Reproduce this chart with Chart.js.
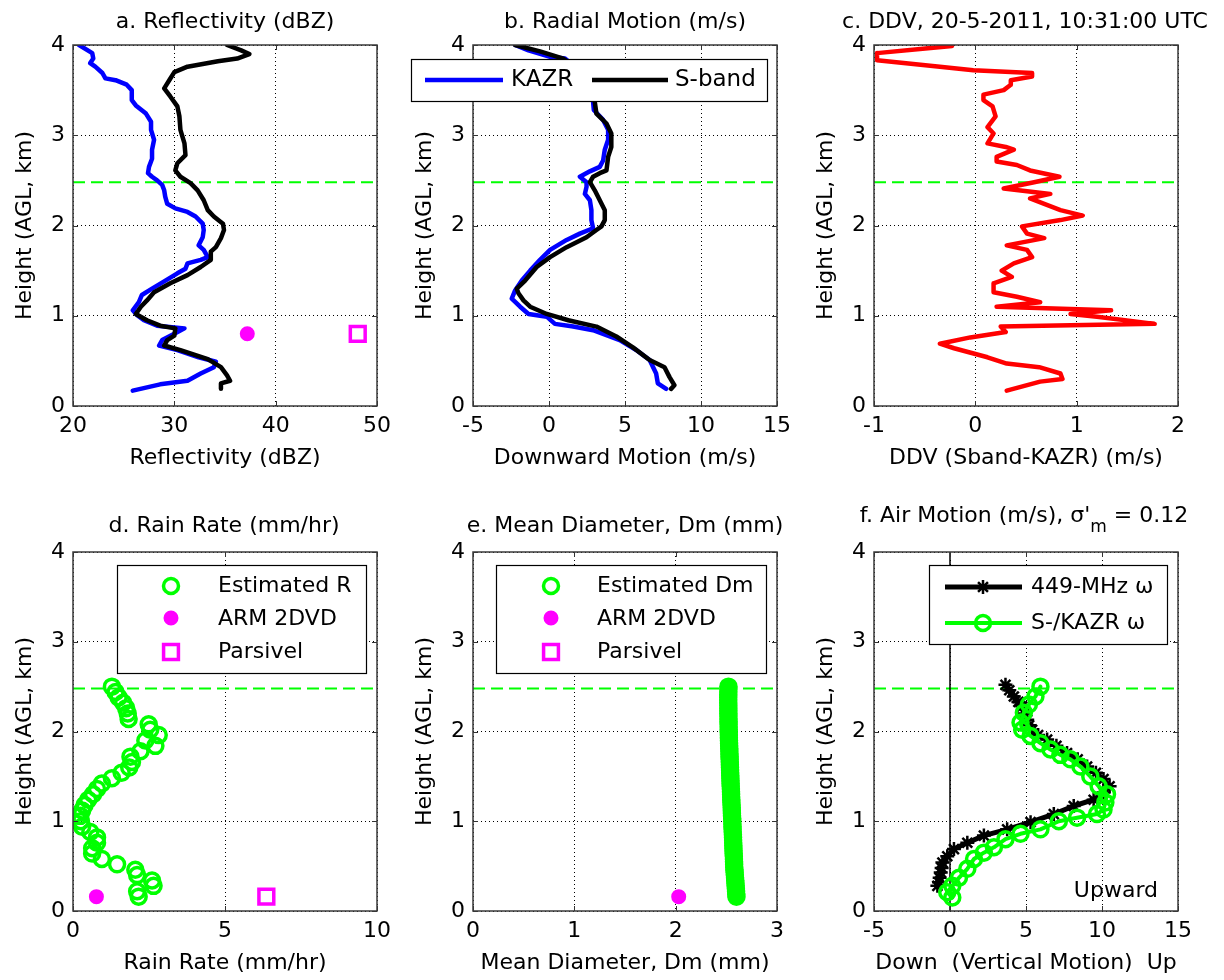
<!DOCTYPE html>
<html><head><meta charset="utf-8">
<script src="https://cdn.jsdelivr.net/npm/chart.js@4.4.1/dist/chart.umd.min.js"></script>
<style>
html,body{margin:0;padding:0;background:#fff;}
body{width:1224px;height:980px;position:relative;overflow:hidden;}
canvas{position:absolute;}
</style></head>
<body>
<canvas id="pa"></canvas><canvas id="pb"></canvas><canvas id="pc"></canvas>
<canvas id="pd"></canvas><canvas id="pe"></canvas><canvas id="pf"></canvas>
<script>
// ---------------- DATA ----------------
const refHeight = [2.48];                 // dashed green reference height (km)
const heightTicks = [0, 1, 2, 3, 4];

// a. Reflectivity (dBZ)
const kazrReflHeight = [4.00,3.91,3.85,3.80,3.76,3.69,3.63,3.61,3.56,3.50,3.39,3.33,3.24,3.15,3.06,2.95,2.84,2.74,2.65,2.58,2.54,2.50,2.45,2.39,2.32,2.24,2.19,2.15,2.10,2.02,1.95,1.87,1.78,1.73,1.65,1.62,1.58,1.52,1.47,1.38,1.30,1.23,1.15,1.06,1.01,0.95,0.89,0.86,0.80,0.73,0.67,0.62,0.54,0.49,0.43,0.36,0.28,0.24,0.17];
const kazrRefl = [20.6,21.9,22.0,21.7,22.2,22.9,23.2,24.2,25.3,25.8,25.8,26.2,27.2,27.7,27.7,28.0,27.8,27.8,27.5,27.4,27.8,28.3,28.8,29.0,29.1,29.3,30.1,31.3,32.1,32.8,32.9,32.8,32.4,32.9,33.3,32.6,31.3,31.1,30.3,29.0,27.8,26.8,26.5,25.9,26.3,27.0,28.3,31.0,30.0,28.8,28.5,30.3,32.4,34.1,33.9,32.6,31.3,28.6,25.9];
const sbandReflHeight = [4.00,3.94,3.90,3.85,3.82,3.76,3.70,3.61,3.52,3.43,3.32,3.21,3.06,2.91,2.78,2.69,2.61,2.54,2.47,2.39,2.28,2.17,2.10,2.02,1.95,1.86,1.76,1.71,1.62,1.54,1.45,1.36,1.26,1.17,1.10,1.02,0.95,0.89,0.86,0.78,0.73,0.67,0.62,0.52,0.43,0.34,0.28,0.25,0.19];
const sbandRefl = [35.2,36.6,37.4,36.2,34.3,31.3,30.0,29.5,29.0,29.6,30.3,30.5,30.6,31.0,31.1,30.3,30.1,30.6,31.6,32.3,32.9,33.3,33.9,34.8,34.9,34.6,34.1,33.6,33.6,32.6,31.3,29.6,28.0,27.3,26.7,26.2,27.3,28.6,30.1,30.0,29.3,29.0,30.6,33.3,34.6,35.2,35.5,34.6,34.6];
const reflSurfaceHeight = [0.80];
const arm2dvdRefl = [37.2];
const parsivelRefl = [48.1];

// b. Radial motion (m/s)
const kazrVelHeight = [4.00,3.94,3.87,3.85,3.70,3.55,3.45,3.37,3.28,3.17,3.06,2.95,2.84,2.72,2.65,2.60,2.54,2.48,2.43,2.35,2.28,2.17,2.06,1.97,1.91,1.84,1.73,1.62,1.50,1.39,1.28,1.19,1.10,1.02,0.99,0.91,0.88,0.84,0.73,0.62,0.51,0.36,0.25,0.19];
const kazrVel = [-2.23,-1.35,0.07,1.05,2.1,2.6,2.8,2.90,2.95,3.56,3.89,3.89,3.67,3.56,3.34,2.69,2.03,2.47,2.47,2.36,2.69,2.79,2.79,2.90,2.03,1.16,0.07,-0.59,-1.24,-1.79,-2.23,-2.45,-1.90,-1.35,-0.15,0.39,1.59,2.90,4.65,5.74,6.62,7.05,7.16,7.71];
const sbandVelHeight = [4.00,3.93,3.85,3.70,3.55,3.45,3.37,3.24,3.13,3.02,2.87,2.76,2.61,2.58,2.54,2.48,2.39,2.28,2.17,2.06,1.99,1.95,1.87,1.76,1.65,1.54,1.39,1.30,1.25,1.17,1.10,1.02,0.95,0.88,0.77,0.65,0.51,0.43,0.32,0.23,0.19];
const sbandVel = [-2.23,-0.59,0.94,2.1,2.6,2.9,3.01,3.12,3.78,4.10,4.10,3.89,3.78,3.34,2.90,2.69,3.01,3.34,3.67,3.67,3.45,3.12,2.47,1.16,0.07,-0.81,-1.57,-2.12,-2.01,-1.68,-1.24,-0.15,1.27,3.12,4.43,5.52,6.62,7.60,7.93,8.25,8.03];

// c. DDV (Sband-KAZR) (m/s)
const ddvHeight = [3.99,3.91,3.83,3.76,3.72,3.69,3.65,3.61,3.56,3.50,3.45,3.39,3.32,3.21,3.09,3.02,2.91,2.87,2.84,2.76,2.71,2.67,2.61,2.54,2.48,2.41,2.35,2.30,2.24,2.17,2.11,2.06,1.99,1.91,1.86,1.78,1.73,1.65,1.58,1.50,1.43,1.36,1.26,1.21,1.15,1.10,1.06,1.02,0.99,0.91,0.88,0.82,0.76,0.69,0.64,0.54,0.47,0.43,0.36,0.30,0.27,0.17];
const ddv = [-0.23,-0.97,-0.97,-0.35,-0.02,0.56,0.56,0.35,0.35,0.28,0.08,0.08,0.17,0.20,0.12,0.18,0.12,0.30,0.38,0.21,0.21,0.41,0.54,0.83,0.58,0.28,0.74,0.54,0.68,0.84,1.06,0.84,0.46,0.51,0.68,0.31,0.51,0.56,0.38,0.26,0.36,0.18,0.18,0.41,0.64,0.21,1.34,0.94,1.20,1.77,0.25,0.30,-0.05,-0.35,-0.21,0.12,0.31,0.63,0.84,0.86,0.64,0.31];

// d. rain rate on radar gates (km)
const gateHeight = [0.16,0.22,0.28,0.34,0.40,0.46,0.52,0.58,0.64,0.70,0.76,0.82,0.88,0.94,1.00,1.06,1.12,1.18,1.24,1.30,1.36,1.42,1.48,1.54,1.60,1.66,1.72,1.78,1.84,1.90,1.96,2.02,2.08,2.14,2.20,2.26,2.32,2.38,2.44,2.50];
const rainRate = [2.16,2.11,2.65,2.60,2.11,2.05,1.45,0.95,0.63,0.63,0.79,0.79,0.57,0.30,0.26,0.24,0.30,0.38,0.50,0.66,0.79,0.95,1.28,1.60,1.85,1.94,1.89,2.22,2.71,2.38,2.82,2.54,2.49,1.83,1.80,1.75,1.65,1.50,1.40,1.28];
const surfaceHeight = [0.16];
const arm2dvdRain = [0.77];
const parsivelRain = [6.36];

// e. mean diameter on fine gates (km)
const fineGateHeight = [0.16,0.19,0.22,0.25,0.28,0.31,0.34,0.37,0.40,0.43,0.46,0.49,0.52,0.55,0.58,0.61,0.64,0.67,0.70,0.73,0.76,0.79,0.82,0.85,0.88,0.91,0.94,0.97,1.00,1.03,1.06,1.09,1.12,1.15,1.18,1.21,1.24,1.27,1.30,1.33,1.36,1.39,1.42,1.45,1.48,1.51,1.54,1.57,1.60,1.63,1.66,1.69,1.72,1.75,1.78,1.81,1.84,1.87,1.90,1.93,1.96,1.99,2.02,2.05,2.08,2.11,2.14,2.17,2.20,2.23,2.26,2.29,2.32,2.35,2.38,2.41,2.44,2.47,2.50];
const meanDiameter = [2.600,2.598,2.596,2.594,2.592,2.590,2.588,2.586,2.584,2.582,
  2.580,2.578,2.577,2.576,2.575,2.574,2.572,2.571,2.570,2.569,
  2.568,2.567,2.566,2.565,2.563,2.562,2.561,2.560,2.559,2.558,
  2.556,2.555,2.554,2.553,2.552,2.550,2.549,2.548,2.547,2.546,
  2.545,2.543,2.542,2.541,2.540,2.539,2.538,2.537,2.536,2.535,
  2.534,2.533,2.532,2.531,2.530,2.529,2.528,2.527,2.526,2.525,
  2.525,2.524,2.523,2.523,2.522,2.522,2.521,2.521,2.520,2.520,
  2.520,2.520,2.519,2.519,2.519,2.519,2.520,2.520,2.521];
const arm2dvdDm = [2.03];

// f. Air motion (m/s)
const profilerHeight = [2.52,2.46,2.39,2.33,2.28,2.20,2.13,2.07,2.02,1.96,1.91,1.84,1.76,1.69,1.61,1.54,1.47,1.39,1.32,1.24,1.17,1.08,0.99,0.91,0.84,0.76,0.69,0.61,0.54,0.48,0.43,0.37,0.32,0.28];
const profilerOmega = [3.65,3.9,4.20,4.5,4.75,4.9,5.08,5.2,5.40,5.8,6.39,7.0,7.70,8.4,9.02,9.6,10.1,10.5,10.1,9.45,8.14,6.83,5.30,3.76,2.23,1.14,0.26,-0.18,-0.50,-0.55,-0.61,-0.68,-0.72,-0.83];
const radarOmegaHeight = [2.50,2.39,2.30,2.21,2.10,2.02,1.95,1.87,1.80,1.74,1.69,1.61,1.50,1.39,1.30,1.21,1.13,1.08,1.04,1.00,0.91,0.86,0.80,0.71,0.65,0.58,0.47,0.37,0.28,0.21,0.15];
const radarOmega = [5.95,5.62,5.19,4.86,4.64,4.75,5.30,5.95,6.61,7.26,7.92,8.58,9.23,9.78,10.33,10.22,10.1,9.67,8.36,7.16,5.95,4.64,3.65,2.89,2.23,1.58,1.14,0.59,0.15,-0.18,0.15];
const zeroLineX = [0, 0];
const zeroLineY = [0, 4];

// axis tick settings [min, max, step]
const xTicksA = [20, 50, 10];
const xTicksB = [-5, 15, 5];
const xTicksC = [-1, 2, 1];
const xTicksD = [0, 10, 5];
const xTicksE = [0, 3, 1];
const xTicksF = [-5, 15, 5];

// ---------------- HELPERS ----------------
const FONT = '"DejaVu Sans", "Liberation Sans", sans-serif';
const F22 = '22px ' + FONT;
const LIME = '#00ff00', MAG = '#ff00ff', BLUE = '#0000ff', RED = '#ff0000';
const pts = (xs, ys) => xs.map((x, i) => ({x: x, y: ys[i]}));

const lineDs = (xs, ys, color, width, order, extra) => Object.assign({
  data: pts(xs, ys), showLine: true, borderColor: color, borderWidth: width,
  borderJoinStyle: 'round', borderCapStyle: 'round',
  pointRadius: 0, pointHoverRadius: 0, fill: false, order: order
}, extra || {});
const markDs = (xs, ys, style, r, color, filled, bw, order) => ({
  data: pts(xs, ys), showLine: false, pointStyle: style, pointRadius: r, pointHoverRadius: r,
  pointBorderColor: color, pointBackgroundColor: filled ? color : 'rgba(0,0,0,0)',
  pointBorderWidth: bw, borderColor: color, order: order
});
const refDs = (xr) => lineDs([xr[0], xr[1]], [refHeight[0], refHeight[0]], LIME, 2, 50, {borderDash: [12, 6], borderCapStyle: 'butt'});

function marker(ctx, style, x, y, r, color, filled, bw) {
  ctx.save();
  ctx.strokeStyle = color; ctx.fillStyle = filled ? color : 'rgba(0,0,0,0)'; ctx.lineWidth = bw;
  Chart.helpers.drawPoint(ctx, {pointStyle: style, radius: r, rotation: 0, borderWidth: bw}, x, y);
  ctx.restore();
}
function txt(ctx, s, x, y, align, font, base) {
  ctx.save(); ctx.font = font || F22; ctx.fillStyle = '#000';
  ctx.textAlign = align || 'left'; ctx.textBaseline = base || 'alphabetic';
  ctx.fillText(s, x, y); ctx.restore();
}
function box(ctx, x0, y0, x1, y1) {
  ctx.save(); ctx.fillStyle = '#fff'; ctx.fillRect(x0, y0, x1 - x0, y1 - y0);
  ctx.strokeStyle = '#000'; ctx.lineWidth = 1.2; ctx.strokeRect(x0, y0, x1 - x0, y1 - y0); ctx.restore();
}
function seg(ctx, x0, x1, y, color, w) {
  ctx.save(); ctx.strokeStyle = color; ctx.lineWidth = w; ctx.beginPath();
  ctx.moveTo(x0, y); ctx.lineTo(x1, y); ctx.stroke(); ctx.restore();
}

function makePanel(id, g, xr, xTitle, datasets, draw) {
  const cv = document.getElementById(id);
  const cx = g.l - 73, cy = g.cy;
  const W = (g.r - g.l) + 73 + 30, H = g.b + 80 - cy;
  cv.width = W; cv.height = H;
  cv.style.left = cx + 'px'; cv.style.top = cy + 'px';
  cv.style.width = W + 'px'; cv.style.height = H + 'px';
  const tickFont = {family: FONT, size: 22, lineHeight: 1};
  const deco = {
    id: 'deco',
    afterDatasetsDraw(chart) {
      const ctx = chart.ctx, a = chart.chartArea, xs = chart.scales.x, ys = chart.scales.y;
      ctx.save();
      ctx.strokeStyle = '#333'; ctx.lineWidth = 1; ctx.beginPath();
      xs.ticks.forEach(t => {
        const p = Math.round(xs.getPixelForValue(t.value)) + 0.5;
        ctx.moveTo(p, a.bottom); ctx.lineTo(p, a.bottom - 5);
        ctx.moveTo(p, a.top); ctx.lineTo(p, a.top + 5);
      });
      ys.ticks.forEach(t => {
        const p = Math.round(ys.getPixelForValue(t.value)) + 0.5;
        ctx.moveTo(a.left, p); ctx.lineTo(a.left + 5, p);
        ctx.moveTo(a.right, p); ctx.lineTo(a.right - 5, p);
      });
      ctx.stroke();
      ctx.lineWidth = 1.5; ctx.strokeStyle = '#3a3a3a';
      ctx.strokeRect(a.left, a.top, a.right - a.left, a.bottom - a.top);
      ctx.restore();
      draw(ctx, x => x - cx, y => y - cy);
    }
  };
  return new Chart(cv, {
    type: 'scatter',
    data: {datasets: datasets},
    options: {
      responsive: false, animation: false, devicePixelRatio: 1,
      layout: {padding: {left: 0, top: g.t - cy, right: 30, bottom: 10}},
      plugins: {legend: {display: false}, tooltip: {enabled: false}, title: {display: false}},
      events: [],
      scales: {
        x: {
          type: 'linear', min: xr[0], max: xr[1],
          ticks: {stepSize: xr[2], autoSkip: false, maxRotation: 0, font: tickFont, color: '#000', padding: 9},
          grid: {color: '#000', lineWidth: 1, drawTicks: false},
          border: {display: false, dash: [1, 3]},
          title: {display: true, text: xTitle, color: '#000', font: {family: FONT, size: 22, lineHeight: 1}, padding: {top: 0, bottom: 7}},
          afterFit: s => { s.height = 70; }
        },
        y: {
          type: 'linear', min: heightTicks[0], max: heightTicks[heightTicks.length - 1],
          ticks: {stepSize: 1, autoSkip: false, font: tickFont, color: '#000', padding: 8},
          grid: {color: '#000', lineWidth: 1, drawTicks: false},
          border: {display: false, dash: [1, 3]},
          title: {display: true, text: 'Height (AGL, km)', color: '#000', font: {family: FONT, size: 22, lineHeight: 1}, padding: {top: 14, bottom: 0}},
          afterFit: s => { s.width = 73; }
        }
      }
    },
    plugins: [deco]
  });
}

const rowTop = {t: 45, b: 406, cy: 0}, rowBot = {t: 552, b: 911, cy: 470};
const cols = [{l: 73, r: 377}, {l: 473, r: 777}, {l: 874, r: 1178}];
const G = (c, r) => ({l: cols[c].l, r: cols[c].r, t: r.t, b: r.b, cy: r.cy});
const SQ = 10.5;   // square marker radius
const CR = 7.5;    // circle marker radius

// a
makePanel('pa', G(0, rowTop), xTicksA, 'Reflectivity (dBZ)', [
  lineDs(sbandRefl, sbandReflHeight, '#000', 4.5, 1),
  lineDs(kazrRefl, kazrReflHeight, BLUE, 4.5, 2),
  refDs(xTicksA),
  markDs(arm2dvdRefl, reflSurfaceHeight, 'circle', 6.5, MAG, true, 2, 0),
  markDs(parsivelRefl, reflSurfaceHeight, 'rect', SQ, MAG, false, 3.5, 0)
], (ctx, X, Y) => {
  txt(ctx, 'a. Reflectivity (dBZ)', X(225), Y(28), 'center');
});

// b
makePanel('pb', G(1, rowTop), xTicksB, 'Downward Motion (m/s)', [
  lineDs(sbandVel, sbandVelHeight, '#000', 4.5, 1),
  lineDs(kazrVel, kazrVelHeight, BLUE, 4.5, 2),
  refDs(xTicksB)
], (ctx, X, Y) => {
  txt(ctx, 'b. Radial Motion (m/s)', X(625), Y(28), 'center');
  box(ctx, X(411.5), Y(59.5), X(767.5), Y(101.5));
  seg(ctx, X(425), X(503), Y(80), BLUE, 4.5);
  txt(ctx, 'KAZR', X(511), Y(80), 'left', '23px ' + FONT, 'middle');
  seg(ctx, X(592), X(668), Y(80), '#000', 4.5);
  txt(ctx, 'S-band', X(675), Y(80), 'left', '23px ' + FONT, 'middle');
});

// c
makePanel('pc', G(2, rowTop), xTicksC, 'DDV (Sband-KAZR) (m/s)', [
  lineDs(ddv, ddvHeight, RED, 4.5, 1),
  refDs(xTicksC)
], (ctx, X, Y) => {
  txt(ctx, 'c. DDV, 20-5-2011, 10:31:00 UTC', X(1025), Y(28), 'center');
});

// d
makePanel('pd', G(0, rowBot), xTicksD, 'Rain Rate (mm/hr)', [
  markDs(rainRate, gateHeight, 'circle', CR, LIME, false, 3.5, 1),
  markDs(arm2dvdRain, surfaceHeight, 'circle', 6.5, MAG, true, 2, 0),
  markDs(parsivelRain, surfaceHeight, 'rect', SQ, MAG, false, 3.5, 0),
  refDs(xTicksD)
], (ctx, X, Y) => {
  txt(ctx, 'd. Rain Rate (mm/hr)', X(224), Y(532), 'center');
  box(ctx, X(117.5), Y(565.5), X(366.5), Y(673.5));
  marker(ctx, 'circle', X(171), Y(586), CR, LIME, false, 3.5);
  marker(ctx, 'circle', X(171), Y(618), 6.5, MAG, true, 2);
  marker(ctx, 'rect', X(171), Y(652), SQ, MAG, false, 3.5);
  txt(ctx, 'Estimated R', X(218), Y(586), 'left', F22, 'middle');
  txt(ctx, 'ARM 2DVD', X(218), Y(619), 'left', F22, 'middle');
  txt(ctx, 'Parsivel', X(218), Y(652), 'left', F22, 'middle');
});

// e
makePanel('pe', G(1, rowBot), xTicksE, 'Mean Diameter, Dm (mm)', [
  markDs(meanDiameter, fineGateHeight, 'circle', CR, LIME, false, 3.5, 1),
  markDs(arm2dvdDm, surfaceHeight, 'circle', 6.5, MAG, true, 2, 0),
  refDs(xTicksE)
], (ctx, X, Y) => {
  txt(ctx, 'e. Mean Diameter, Dm (mm)', X(625), Y(532), 'center');
  box(ctx, X(496.5), Y(565.5), X(766.5), Y(673.5));
  marker(ctx, 'circle', X(551), Y(586), CR, LIME, false, 3.5);
  marker(ctx, 'circle', X(551), Y(618), 6.5, MAG, true, 2);
  marker(ctx, 'rect', X(551), Y(652), SQ, MAG, false, 3.5);
  txt(ctx, 'Estimated Dm', X(597), Y(586), 'left', F22, 'middle');
  txt(ctx, 'ARM 2DVD', X(597), Y(619), 'left', F22, 'middle');
  txt(ctx, 'Parsivel', X(597), Y(652), 'left', F22, 'middle');
});

// f
makePanel('pf', G(2, rowBot), xTicksF, 'Down  (Vertical Motion)  Up', [
  lineDs(zeroLineX, zeroLineY, '#000', 1.5, 5, {borderCapStyle: 'butt'}),
  lineDs(radarOmega, radarOmegaHeight, LIME, 4, 1, {pointStyle: 'circle', pointRadius: CR, pointHoverRadius: CR, pointBorderColor: LIME, pointBackgroundColor: 'rgba(0,0,0,0)', pointBorderWidth: 3.5}),
  lineDs(profilerOmega, profilerHeight, '#000', 5, 2, {pointStyle: 'star', pointRadius: 7, pointHoverRadius: 7, pointBorderColor: '#000', pointBackgroundColor: '#000', pointBorderWidth: 2.5}),
  refDs(xTicksF)
], (ctx, X, Y) => {
  ctx.save();
  ctx.font = F22;
  const p1 = "f. Air Motion (m/s), σ'", p3 = ' = 0.12';
  const fs = '17px ' + FONT;
  const w1 = ctx.measureText(p1).width, w3 = ctx.measureText(p3).width;
  ctx.font = fs; const w2 = ctx.measureText('m').width;
  const total = w1 + w2 + w3;
  const x0 = X(1024) - total / 2;
  ctx.restore();
  txt(ctx, p1, x0, Y(522), 'left');
  txt(ctx, 'm', x0 + w1, Y(532), 'left', fs);
  txt(ctx, p3, x0 + w1 + w2, Y(522), 'left');
  box(ctx, X(929.5), Y(565.5), X(1167.5), Y(644.5));
  seg(ctx, X(945), X(1022), Y(587), '#000', 5);
  marker(ctx, 'star', X(983), Y(587), 7, '#000', true, 2.5);
  txt(ctx, '449-MHz ω', X(1031), Y(587), 'left', F22, 'middle');
  seg(ctx, X(945), X(1022), Y(623), LIME, 4);
  marker(ctx, 'circle', X(983), Y(623), CR, LIME, false, 3.5);
  txt(ctx, 'S-/KAZR ω', X(1031), Y(623), 'left', F22, 'middle');
  txt(ctx, 'Upward', X(1158), Y(897), 'right');
});
</script>
</body></html>
